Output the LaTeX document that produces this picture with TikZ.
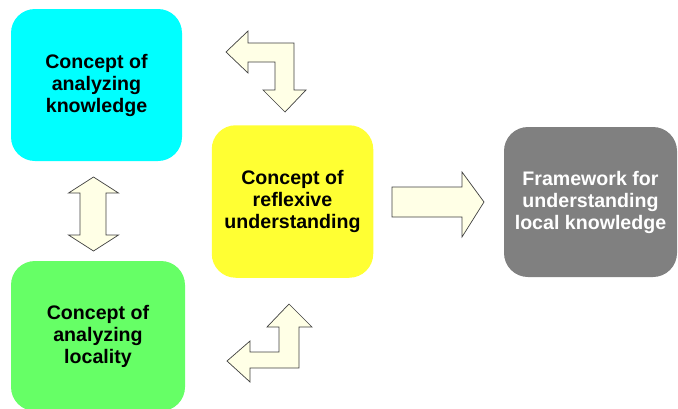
\documentclass[tikz,border=0pt]{standalone}
\usepackage{fontspec}
\setmainfont{Liberation Sans}
\definecolor{boxcyan}{RGB}{0,255,255}
\definecolor{boxgreen}{RGB}{102,255,102}
\definecolor{boxyellow}{RGB}{255,255,51}
\definecolor{boxgray}{RGB}{128,128,128}
\definecolor{arrowfill}{RGB}{255,255,230}
\begin{document}
\begin{tikzpicture}[x=1pt,y=-1pt,
  conceptbox/.style={rounded corners=24pt, inner sep=0pt, align=center,
    font=\bfseries\fontsize{19.6}{22}\selectfont},
  blockarrow/.style={fill=arrowfill, draw=black!75, line width=0.7pt, line join=miter}]
  \useasboundingbox (0,0) rectangle (678,408);
  \begin{scope}
    \clip (0,0) rectangle (678,408);
    % concept boxes
    \node[conceptbox, fill=boxcyan, minimum width=171pt, minimum height=152pt]
      (knowledge) at (96.5,85) {Concept of\\analyzing\\knowledge};
    \node[conceptbox, fill=boxgreen, minimum width=174pt, minimum height=150pt]
      (locality) at (98,336) {Concept of\\analyzing\\locality};
    \node[conceptbox, fill=boxyellow, minimum width=161.5pt, minimum height=152.5pt]
      (reflexive) at (292.5,201.5) {Concept of\\reflexive\\understanding};
    \node[conceptbox, fill=boxgray, text=white, minimum width=173pt, minimum height=150pt]
      (framework) at (590.5,202) {Framework for\\understanding\\local knowledge};
  \end{scope}
  % bent double arrow between knowledge and reflexive
  \draw[blockarrow] (226,52) -- (248,31) -- (248,43) -- (294,43) -- (294,90)
    -- (306,90) -- (285,112) -- (263,90) -- (275,90) -- (275,62) -- (248,62)
    -- (248,73) -- cycle;
  % bent double arrow between locality and reflexive
  \draw[blockarrow] (289,304) -- (312,327) -- (299,327) -- (299,368) -- (250,368)
    -- (250,382) -- (227,361) -- (250,341) -- (250,352) -- (279,352) -- (279,327)
    -- (267,327) -- cycle;
  % vertical double arrow between knowledge and locality
  \draw[blockarrow] (93.5,177) -- (118.5,193) -- (106,193) -- (106,235) -- (118.5,235)
    -- (93.5,251) -- (68.5,235) -- (80,235) -- (80,193) -- (68.5,193) -- cycle;
  % arrow from reflexive to framework
  \draw[blockarrow] (392,187) -- (462,187) -- (462,172) -- (484,202) -- (462,237)
    -- (462,217) -- (392,217) -- cycle;
\end{tikzpicture}
\end{document}
